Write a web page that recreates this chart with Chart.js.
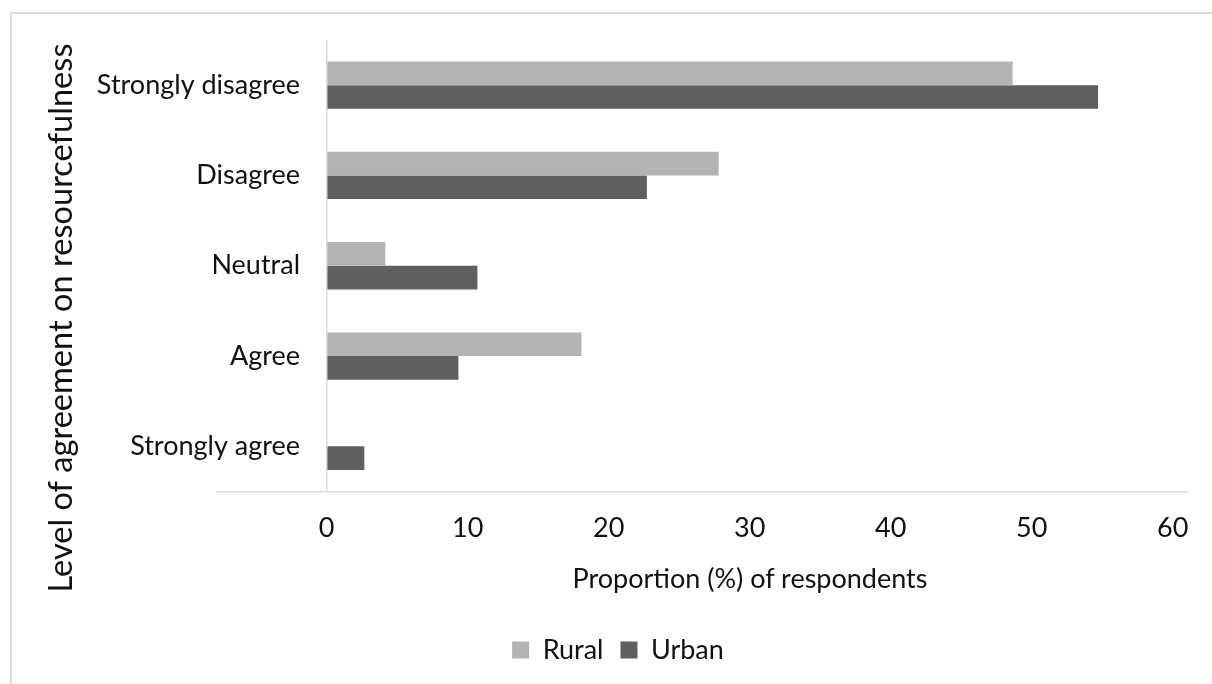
<!DOCTYPE html>
<html>
<head>
<meta charset="utf-8">
<script src="https://cdn.jsdelivr.net/npm/chart.js@4.4.1/dist/chart.umd.min.js"></script>
<style>
  html, body { margin: 0; padding: 0; background: #fff; overflow: hidden; }
  #wrap { position: relative; width: 1212px; height: 684px; overflow: hidden; }
  #frame { position: absolute; left: 10px; top: 12px; width: 1230px; height: 700px;
           border: 2px solid #dcdcdc; box-sizing: border-box; }
  #c { position: absolute; left: 0; top: 0; }
  #xtitle { position: absolute; white-space: nowrap; line-height: 1;
            font-family: Lato, sans-serif; color: #111;
            left: 750px; top: 576.5px; font-size: 27px; transform: translate(-50%, -50%); }
</style>
</head>
<body>
<div id="wrap">
  <div id="frame"></div>
  <canvas id="c" width="1212" height="684"></canvas>
  <div id="xtitle">Proportion (%) of respondents</div>
</div>
<script>
// Levels of agreement, top to bottom
const categories = ['Strongly disagree', 'Disagree', 'Neutral', 'Agree', 'Strongly agree'];
// Proportion (%) of respondents
const rural = [48.65, 27.8, 4.16, 18.07, 0];
const urban = [54.71, 22.71, 10.69, 9.34, 2.67];
// Value-axis tick labels
const tickValues = [0, 10, 20, 30, 40, 50, 60];

const FONT = { family: 'Lato, sans-serif', size: 27 };
const INK = '#111';

// Category labels sit right-aligned just left of the zero line, inside the plot.
const Y_AXIS_WIDTH = 169;
const LABEL_RIGHT_OFFSET = 83;
const measureCtx = document.createElement('canvas').getContext('2d');
measureCtx.font = FONT.size + 'px ' + FONT.family;
const widestLabel = Math.max(...categories.map(c => measureCtx.measureText(c).width));

// Rotated category-axis title, centred on the whole left column.
const sideTitle = {
  id: 'sideTitle',
  afterDraw(chart, args, opts) {
    const { ctx } = chart;
    ctx.save();
    ctx.translate(opts.x, opts.y);
    ctx.rotate(-Math.PI / 2);
    ctx.font = opts.size + 'px ' + FONT.family;
    ctx.fillStyle = INK;
    ctx.textAlign = 'center';
    ctx.textBaseline = 'middle';
    ctx.fillText(opts.text, 0, 0);
    ctx.restore();
  }
};

new Chart(document.getElementById('c'), {
  type: 'bar',
  data: {
    labels: categories,
    datasets: [
      { label: 'Rural', data: rural, backgroundColor: '#b3b3b3' },
      { label: 'Urban', data: urban, backgroundColor: '#5f5f5f' }
    ]
  },
  plugins: [sideTitle],
  options: {
    indexAxis: 'y',
    responsive: false,
    animation: false,
    devicePixelRatio: 1,
    categoryPercentage: 0.524,
    barPercentage: 1,
    layout: { padding: { top: 40, left: 48, right: 24, bottom: 10.5 } },
    plugins: {
      legend: {
        position: 'bottom',
        labels: { boxWidth: 17, boxHeight: 17, padding: 17, font: FONT, color: INK }
      },
      tooltip: { enabled: false },
      sideTitle: { text: 'Level of agreement on resourcefulness', x: 61, y: 318, size: 32.6 }
    },
    scales: {
      x: {
        type: 'linear',
        min: -7.78,
        max: 61.09,
        afterBuildTicks: (scale) => { scale.ticks = tickValues.map(v => ({ value: v })); },
        afterFit: (scale) => { scale.height = 128; },
        grid: {
          drawTicks: false,
          color: (ctx) => (ctx.tick && ctx.tick.value === 0 ? '#d9d9d9' : 'rgba(0,0,0,0)'),
          lineWidth: 1.5
        },
        border: { display: true, color: '#dedede', width: 1.5 },
        ticks: { padding: 21, font: FONT, color: INK, maxRotation: 0 }
      },
      y: {
        type: 'category',
        afterFit: (scale) => { scale.width = Y_AXIS_WIDTH; },
        grid: { display: false, drawTicks: false },
        border: { display: false },
        ticks: {
          mirror: true,
          crossAlign: 'far',
          padding: LABEL_RIGHT_OFFSET - widestLabel,
          font: FONT, color: INK
        }
      }
    }
  }
});
</script>
</body>
</html>
